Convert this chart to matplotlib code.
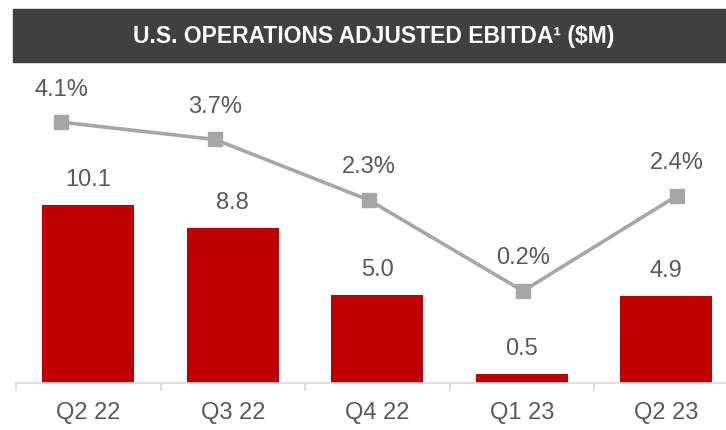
import matplotlib.pyplot as plt
from matplotlib.patches import Rectangle

# data
quarters = ["Q2 22", "Q3 22", "Q4 22", "Q1 23", "Q2 23"]
ebitda = [10.1, 8.8, 5.0, 0.5, 4.9]
margin = [4.1, 3.7, 2.3, 0.2, 2.4]

plt.rcParams['font.family'] = ['Liberation Sans', 'DejaVu Sans']
W, H = 726, 430
fig = plt.figure(figsize=(W / 100, H / 100), dpi=100)

# header bar
fig.patches.append(Rectangle((13 / W, 1 - 62 / H), 1, 53 / H, transform=fig.transFigure,
                             color="#404040", zorder=0))
fig.text(373.5 / W, 1 - 36 / H, "U.S. OPERATIONS ADJUSTED EBITDA¹ ($M)", color="white",
         fontsize=16.5, fontweight="bold", ha="center", va="center")

# bar axes
left, bottom = 16 / W, 47.3 / H
width, height = 722.5 / W, 312.7 / H
ax = fig.add_axes([left, bottom, width, height])
x = range(len(quarters))
ax.bar(x, ebitda, width=0.635, color="#C00000", zorder=2)
ax.set_xlim(-0.5, 4.5)
ax.set_ylim(0, 312.7 / 17.6)
for i, v in enumerate(ebitda):
    ax.annotate(f"{v:.1f}", (i, v), xytext=(0, 18), textcoords="offset points",
                ha="center", va="center", fontsize=17, color="#595959")
for s in ["top", "right", "left"]:
    ax.spines[s].set_visible(False)
ax.spines["bottom"].set_color("#D9D9D9")
ax.spines["bottom"].set_linewidth(1.2)
ax.set_yticks([])
ax.set_xticks([i - 0.5 for i in range(6)])
ax.set_xticklabels([])
ax.tick_params(axis="x", length=6, color="#D9D9D9", width=1.2)
ax.set_xticks(list(x), minor=True)
ax.set_xticklabels(quarters, minor=True, fontsize=17, color="#595959")
ax.tick_params(axis="x", which="minor", length=0, pad=14)

# margin line on its own axes
ax2 = fig.add_axes([left, bottom, width, height])
ax2.patch.set_visible(False)
ax2.axis("off")
ax2.set_xlim((16 - 61) / 154, (738.5 - 61) / 154)
ax2.set_ylim((47.3 - 130.3) / 43.3, (360 - 130.3) / 43.3)
ax2.plot(range(len(margin)), margin, color="#A6A6A6", linewidth=2.6, marker="s",
         markersize=10, markerfacecolor="#A6A6A6", markeredgecolor="#A6A6A6", zorder=3)
for i, p in enumerate(margin):
    ax2.annotate(f"{p:.1f}%", (i, p), xytext=(0, 23.5), textcoords="offset points",
                 ha="center", va="center", fontsize=17, color="#595959")

fig.savefig("out.png", dpi=100)
